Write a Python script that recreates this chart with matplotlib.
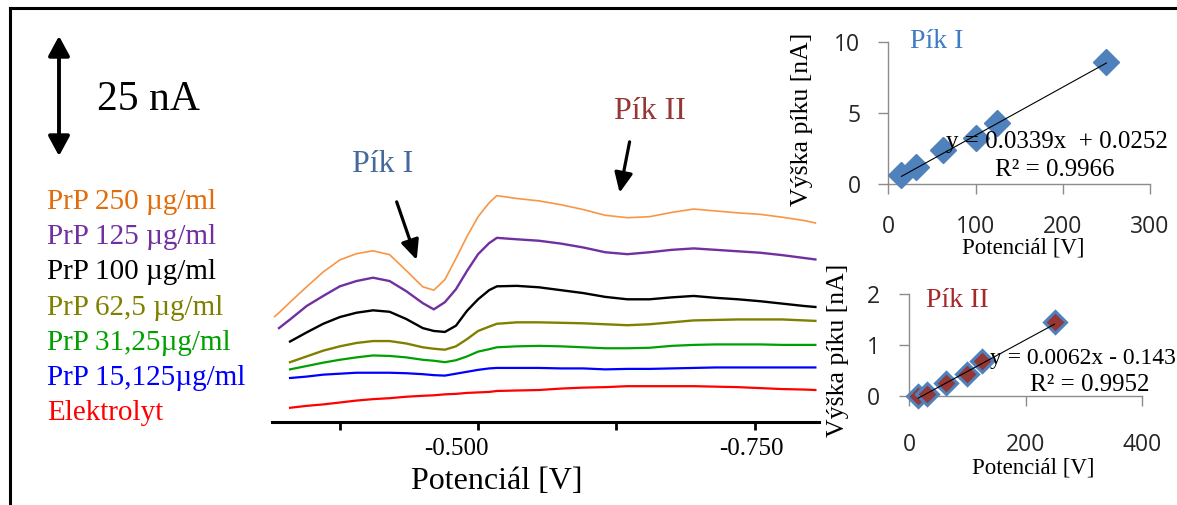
import numpy as np
import matplotlib
matplotlib.use('Agg')
import matplotlib.pyplot as plt
from matplotlib import transforms
from matplotlib.patches import FancyArrowPatch
from matplotlib.lines import Line2D

nan = np.nan
# ---------------- data ----------------
potential = [-0.316, -0.32, -0.33, -0.345, -0.36, -0.375, -0.39, -0.405, -0.42, -0.435,
             -0.45, -0.46, -0.47, -0.48, -0.49, -0.50, -0.51, -0.517, -0.535, -0.555,
             -0.575, -0.595, -0.615, -0.635, -0.655, -0.675, -0.695, -0.715, -0.735,
             -0.755, -0.775, -0.795, -0.805]

i_prp250 = [21.9, 22.7, 24.9, 28.1, 31.2, 33.7, 35.0, 35.6, 34.8, 31.5, 28.1, 27.4, 29.6,
            34.0, 38.6, 42.7, 45.6, 47.1, 46.5, 46.0, 45.2, 44.2, 43.0, 42.5, 42.7, 43.6,
            44.3, 43.9, 43.5, 43.2, 42.6, 41.9, 41.4]
i_prp125 = [nan, 19.5, 21.3, 24.1, 26.2, 28.2, 29.3, 30.0, 29.3, 27.2, 24.7, 23.4, 24.9,
            27.6, 31.4, 34.9, 37.2, 38.3, 38.0, 37.7, 37.1, 36.3, 35.3, 34.9, 35.3, 35.8,
            36.1, 35.8, 35.5, 35.2, 34.7, 34.1, 33.8]
i_prp100 = [nan, nan, 16.7, 18.6, 20.4, 21.8, 22.7, 23.2, 22.9, 21.4, 19.5, 18.9, 18.7,
            20.0, 23.1, 25.5, 27.4, 28.2, 28.3, 28.0, 27.4, 26.8, 26.0, 25.5, 25.5, 25.9,
            26.2, 25.8, 25.5, 25.1, 24.6, 24.1, 23.9]
i_prp62 = [nan, nan, 12.4, 13.6, 14.8, 15.7, 16.4, 16.8, 16.8, 16.3, 15.5, 15.2, 15.0,
           15.7, 17.2, 18.9, 19.8, 20.4, 20.7, 20.7, 20.6, 20.5, 20.3, 20.1, 20.3, 20.7,
           21.1, 21.2, 21.3, 21.3, 21.3, 21.1, 21.0]
i_prp31 = [nan, nan, 10.9, 11.6, 12.3, 12.9, 13.4, 13.8, 13.7, 13.4, 12.9, 12.7, 12.4,
           12.8, 13.6, 14.6, 15.1, 15.5, 15.7, 15.8, 15.7, 15.5, 15.3, 15.3, 15.4, 15.8,
           16.0, 16.1, 16.1, 16.1, 16.0, 16.0, 16.0]
i_prp15 = [nan, nan, 9.1, 9.4, 9.8, 10.0, 10.2, 10.2, 10.2, 10.1, 9.9, 9.7, 9.6,
           10.0, 10.4, 10.8, 11.1, 11.2, 11.2, 11.2, 11.1, 11.1, 10.9, 11.0, 11.0, 11.1,
           11.2, 11.3, 11.3, 11.3, 11.3, 11.3, 11.3]
i_elektrolyt = [nan, nan, 2.9, 3.3, 3.6, 4.0, 4.4, 4.7, 4.9, 5.2, 5.4, 5.5, 5.7,
                5.8, 6.0, 6.1, 6.2, 6.4, 6.5, 6.6, 6.9, 7.1, 7.2, 7.4, 7.4, 7.4,
                7.4, 7.3, 7.2, 7.0, 6.8, 6.7, 6.6]

series_labels = ['PrP 250 µg/ml', 'PrP 125 µg/ml', 'PrP 100 µg/ml', 'PrP 62,5 µg/ml',
                 'PrP 31,25µg/ml', 'PrP 15,125µg/ml', 'Elektrolyt']
line_colors = ['#F79646', '#7030A0', '#000000', '#808000', '#00A000', '#0000FF', '#FF0000']
text_colors = ['#E36C09', '#7030A0', '#000000', '#808000', '#00A000', '#0000FF', '#FF0000']
line_widths = [1.2, 1.7, 1.7, 1.7, 1.6, 1.6, 1.6]

main_xticks = [-0.375, -0.5, -0.625, -0.75]
main_xticklabels = ['', '-0.500', '', '-0.750']

scale_bar_nA = 25

# calibration insets
concentration = [15.125, 31.25, 62.5, 100, 125, 250]
peak1_height = [0.6, 1.2, 2.4, 3.2, 4.3, 8.6]
peak2_height = [0.0, 0.03, 0.24, 0.43, 0.68, 1.44]
fit1 = (0.0339, 0.0252)
fit2 = (0.0062, -0.143)
fit1_text = ['y = 0.0339x  + 0.0252', 'R² = 0.9966']
fit2_text = ['y = 0.0062x - 0.143', 'R² = 0.9952']

SERIF = 'Liberation Serif'
SANS = 'Open Sans'
plt.rcParams['font.family'] = [SERIF, 'DejaVu Serif']
plt.rcParams['mathtext.fontset'] = 'stix'

W, H = 1177, 505
fig = plt.figure(figsize=(W / 100, H / 100), dpi=100)

def fx(px):
    return px / W

def fy(py):
    return 1 - py / H

# ---------------- main voltammogram ----------------
ax = fig.add_axes([fx(271.7), fy(421.7), fx(818.7) - fx(271.7), fy(30) - fy(421.7)])
curves = [i_prp250, i_prp125, i_prp100, i_prp62, i_prp31, i_prp15, i_elektrolyt]
for vals, c, lw in zip(curves, line_colors, line_widths):
    ax.plot(potential, vals, color=c, lw=lw, solid_joinstyle='round', clip_on=False)
ax.set_xlim(-0.3134, -0.808)
ax.set_ylim(0, 81.6)
for s in ['top', 'right', 'left']:
    ax.spines[s].set_visible(False)
ax.spines['bottom'].set_linewidth(2.2)
ax.set_yticks([])
ax.set_xticks(main_xticks)
ax.set_xticklabels(main_xticklabels)
ax.tick_params(axis='x', direction='out', length=6, width=2, labelsize=18, pad=6,
               colors='black')
offsets_px = [0, -22, 0, -3]
for lbl, off in zip(ax.get_xticklabels(), offsets_px):
    lbl.set_transform(lbl.get_transform() +
                      transforms.ScaledTranslation(off / 100, 0, fig.dpi_scale_trans))
ax.set_xlabel('Potenciál [V]', fontsize=23)
ax.xaxis.set_label_coords(0.412, -0.153)
ax.xaxis.label.set_va('center')

# peak annotations
ax.text(-0.414, 53.5, 'Pík I', fontsize=23, color='#45699C', ha='center', va='center')
ax.text(-0.655, 64.6, 'Pík II', fontsize=23, color='#953735', ha='center', va='center')
for tail, head in [((-0.4264, 45.8), (-0.4445, 33.7)), ((-0.637, 58.3), (-0.628, 47.7))]:
    arr = FancyArrowPatch(tail, head, transform=ax.transData,
                          arrowstyle='-|>,head_length=12,head_width=5.5',
                          mutation_scale=1, lw=2.3, color='black', shrinkA=0, shrinkB=0,
                          clip_on=False)
    ax.add_patch(arr)

# scale bar
bt = transforms.blended_transform_factory(ax.transAxes, ax.transData)
bar_x = (59 - 271.7) / (818.7 - 271.7)
bar = FancyArrowPatch((bar_x, 55.35), (bar_x, 55.35 + scale_bar_nA), transform=bt,
                      arrowstyle='<|-|>,head_length=12,head_width=6.5', mutation_scale=1,
                      lw=2.8, color='black', shrinkA=0, shrinkB=0, clip_on=False)
ax.add_patch(bar)
fig.text(fx(97), fy(100), f'{scale_bar_nA} nA', fontsize=30, ha='left', va='center')

# legend texts
for k, (lab, col) in enumerate(zip(series_labels, text_colors)):
    fig.text(fx(46.7), fy(201.7 + 35.27 * k), lab, fontsize=21, color=col,
             ha='left', va='center')

# ---------------- insets ----------------
def style_inset(a, xlim, ylim, xt, yt, xpad, ypad):
    a.set_xlim(*xlim)
    a.set_ylim(*ylim)
    a.set_xticks(xt)
    a.set_yticks(yt)
    for s in ['top', 'right']:
        a.spines[s].set_visible(False)
    for s in ['left', 'bottom']:
        a.spines[s].set_color('#8C8C8C')
        a.spines[s].set_linewidth(1.0)
    a.tick_params(axis='both', direction='out', color='#8C8C8C', width=1.0, length=7,
                  labelsize=16.5, labelcolor='#262626')
    a.tick_params(axis='x', pad=xpad)
    a.tick_params(axis='y', pad=ypad)
    for t in a.get_xticklabels() + a.get_yticklabels():
        t.set_family([SANS, 'DejaVu Sans'])
    a.patch.set_alpha(0)

ax1 = fig.add_axes([fx(888.3), fy(184), fx(1150) - fx(888.3), fy(41.7) - fy(184)])
style_inset(ax1, (0, 300), (0, 10), [0, 100, 200, 300], [0, 5, 10], 15, 13)
ax1.plot(concentration, peak1_height, 'D', ms=13.5, color='#4F81BD', mec='#4F81BD',
         clip_on=False, zorder=3)
xs = np.array([min(concentration), max(concentration)])
ax1.plot(xs, fit1[0] * xs + fit1[1], color='black', lw=0.8, zorder=4, clip_on=False)
ax1.set_xlabel('Potenciál [V]', fontsize=16.5)
ax1.xaxis.set_label_coords(0.515, -0.448)
ax1.xaxis.label.set_va('center')
ax1.set_ylabel('Výška píku [nA]', fontsize=18.5)
ax1.yaxis.set_label_coords(-0.331, 0.457)
ax1.yaxis.label.set_va('center')
ax1.text(0.185, 1.0, 'Pík I', transform=ax1.transAxes, fontsize=20, color='#3F7CC4',
         ha='center', va='center')
ax1.text(0.643, 0.297, fit1_text[0], transform=ax1.transAxes, fontsize=18,
         ha='center', va='center', zorder=5)
ax1.text(0.637, 0.098, fit1_text[1], transform=ax1.transAxes, fontsize=18,
         ha='center', va='center', zorder=5)

ax2 = fig.add_axes([fx(909.3), fy(395.7), fx(1141.7) - fx(909.3), fy(294) - fy(395.7)])
style_inset(ax2, (0, 400), (0, 2), [0, 200, 400], [0, 1, 2], 20, 14)
ax2.plot(concentration, peak2_height, 'D', ms=11.5, mfc='#953735', mec='#4F81BD',
         mew=2.2, clip_on=False, zorder=3)
ax2.plot(xs, fit2[0] * xs + fit2[1], color='black', lw=0.8, zorder=4, clip_on=False)
ax2.set_xlabel('Potenciál [V]', fontsize=16.5)
ax2.xaxis.set_label_coords(0.532, -0.714)
ax2.xaxis.label.set_va('center')
ax2.set_ylabel('Výška píku [nA]', fontsize=18.5)
ax2.yaxis.set_label_coords(-0.3055, 0.449)
ax2.yaxis.label.set_va('center')
ax2.text(0.2074, 0.934, 'Pík II', transform=ax2.transAxes, fontsize=20, color='#A5282A',
         ha='center', va='center')
ax2.text((990 - 909.3) / 232.4, 0.368, fit2_text[0], transform=ax2.transAxes,
         fontsize=17, ha='left', va='center', zorder=5)
ax2.text(0.7775, 0.105, fit2_text[1], transform=ax2.transAxes, fontsize=18,
         ha='center', va='center', zorder=5)

# ---------------- frame ----------------
fig.add_artist(Line2D([fx(9.5), fx(9.5)], [0, fy(7.5)], transform=fig.transFigure,
                      color='black', lw=2.2))
fig.add_artist(Line2D([fx(9.5), 1.0], [fy(7.5), fy(7.5)], transform=fig.transFigure,
                      color='black', lw=2.2))

fig.savefig('out.png', dpi=100)
